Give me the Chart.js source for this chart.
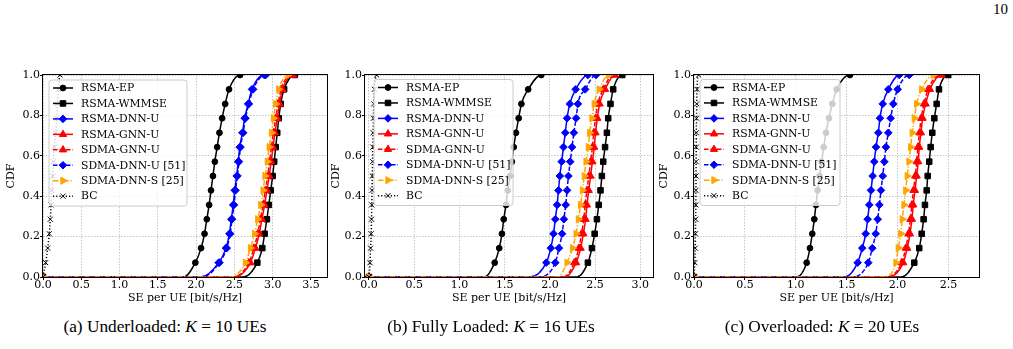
<!DOCTYPE html>
<html>
<head>
<meta charset="utf-8">
<script src="https://cdn.jsdelivr.net/npm/chart.js@4/dist/chart.umd.min.js"></script>
<style>
  body { margin: 0; background: #fff; width: 1013px; height: 349px; position: relative; overflow: hidden; }
  canvas { position: absolute; top: 60px; }
  .caption { position: absolute; top: 317px; font-family: 'Liberation Serif', 'Times New Roman', serif; font-size: 17.3px; transform: translateX(-50%); white-space: nowrap; color: #000; }
  .pagenum { position: absolute; top: 1px; left: 993px; font-family: 'Liberation Serif', 'Times New Roman', serif; font-size: 15px; color: #000; }
</style>
</head>
<body>
<div class="pagenum">10</div>
<canvas id="chartA" width="340" height="250" style="left:0px"></canvas>
<canvas id="chartB" width="335" height="250" style="left:330px"></canvas>
<canvas id="chartC" width="340" height="250" style="left:658px"></canvas>
<div class="caption" style="left:165px">(a) Underloaded: <i>K</i> = 10 UEs</div>
<div class="caption" style="left:491px">(b) Fully Loaded: <i>K</i> = 16 UEs</div>
<div class="caption" style="left:822px">(c) Overloaded: <i>K</i> = 20 UEs</div>
<script>
// CDF levels where the markers sit (one marker every 1/14)
const cdfLevels = [0.071, 0.143, 0.214, 0.286, 0.357, 0.429, 0.5, 0.571, 0.643, 0.714, 0.786, 0.857, 0.929, 1.0];
const seriesNames = ['RSMA-EP', 'RSMA-WMMSE', 'RSMA-DNN-U', 'RSMA-GNN-U', 'SDMA-GNN-U', 'SDMA-DNN-U [51]', 'SDMA-DNN-S [25]', 'BC'];
const yTicks = [0, 0.2, 0.4, 0.6, 0.8, 1.0];
const xTicksA = [0, 0.5, 1.0, 1.5, 2.0, 2.5, 3.0, 3.5];
const xTicksB = [0, 0.5, 1.0, 1.5, 2.0, 2.5, 3.0];
const xTicksC = [0, 0.5, 1.0, 1.5, 2.0, 2.5];

// (a) Underloaded, K = 10 -- SE value at each marker level
const rsmaEpA = [1.99, 2.065, 2.11, 2.14, 2.17, 2.195, 2.22, 2.245, 2.275, 2.305, 2.34, 2.38, 2.43, 2.575];
const rsmaWmmseA = [2.80, 2.865, 2.895, 2.925, 2.95, 2.975, 3.00, 3.02, 3.04, 3.06, 3.08, 3.105, 3.15, 3.29];
const rsmaDnnA = [2.295, 2.39, 2.435, 2.46, 2.485, 2.505, 2.53, 2.55, 2.57, 2.605, 2.635, 2.68, 2.73, 2.89];
const rsmaGnnA = [2.71, 2.775, 2.825, 2.86, 2.895, 2.925, 2.955, 2.98, 3.005, 3.03, 3.06, 3.09, 3.13, 3.27];
const sdmaGnnA = [2.69, 2.755, 2.805, 2.84, 2.875, 2.905, 2.935, 2.96, 2.985, 3.01, 3.04, 3.07, 3.11, 3.25];
const sdmaDnnUA = [2.305, 2.40, 2.445, 2.47, 2.495, 2.515, 2.54, 2.56, 2.58, 2.615, 2.645, 2.69, 2.745, 2.91];
const sdmaDnnSA = [2.645, 2.71, 2.765, 2.805, 2.845, 2.875, 2.90, 2.93, 2.955, 2.985, 3.01, 3.04, 3.08, 3.20];
const bcA = [0.035, 0.061, 0.082, 0.095, 0.105, 0.114, 0.127, 0.135, 0.148, 0.166, 0.179, 0.187, 0.20, 0.222];
const riseStartA = [1.84, 2.62, 2.06, 2.50, 2.48, 2.08, 2.45, 0];

// (b) Fully loaded, K = 16
const rsmaEpB = [1.39, 1.44, 1.47, 1.49, 1.515, 1.535, 1.56, 1.58, 1.60, 1.625, 1.655, 1.685, 1.76, 1.905];
const rsmaWmmseB = [2.42, 2.465, 2.495, 2.52, 2.54, 2.56, 2.575, 2.59, 2.61, 2.63, 2.645, 2.67, 2.70, 2.80];
const rsmaDnnB = [1.96, 2.01, 2.04, 2.06, 2.08, 2.095, 2.11, 2.13, 2.15, 2.17, 2.19, 2.22, 2.285, 2.42];
const rsmaGnnB = [2.29, 2.34, 2.37, 2.395, 2.41, 2.43, 2.45, 2.47, 2.49, 2.505, 2.525, 2.55, 2.61, 2.72];
const sdmaGnnB = [2.27, 2.32, 2.35, 2.375, 2.39, 2.41, 2.43, 2.45, 2.47, 2.485, 2.505, 2.53, 2.59, 2.70];
const sdmaDnnUB = [2.06, 2.10, 2.135, 2.155, 2.175, 2.19, 2.205, 2.225, 2.245, 2.265, 2.29, 2.31, 2.39, 2.51];
const sdmaDnnSB = [2.19, 2.25, 2.29, 2.315, 2.34, 2.36, 2.38, 2.40, 2.425, 2.44, 2.465, 2.49, 2.545, 2.65];
const bcB = [0.011, 0.018, 0.024, 0.028, 0.031, 0.034, 0.037, 0.040, 0.043, 0.046, 0.049, 0.053, 0.060, 0.085];
const riseStartB = [1.28, 2.30, 1.78, 2.17, 2.15, 1.86, 2.09, 0];

// (c) Overloaded, K = 20
const rsmaEpC = [1.107, 1.139, 1.162, 1.182, 1.198, 1.215, 1.234, 1.254, 1.274, 1.297, 1.326, 1.359, 1.402, 1.532];
const rsmaWmmseC = [2.164, 2.213, 2.237, 2.256, 2.269, 2.286, 2.296, 2.311, 2.325, 2.341, 2.361, 2.384, 2.407, 2.498];
const rsmaDnnC = [1.608, 1.653, 1.687, 1.706, 1.722, 1.739, 1.755, 1.771, 1.788, 1.811, 1.827, 1.854, 1.909, 2.017];
const rsmaGnnC = [2.056, 2.095, 2.122, 2.141, 2.154, 2.171, 2.188, 2.203, 2.213, 2.230, 2.246, 2.276, 2.318, 2.433];
const sdmaGnnC = [2.04, 2.08, 2.107, 2.126, 2.14, 2.156, 2.173, 2.188, 2.20, 2.215, 2.232, 2.26, 2.30, 2.42];
const sdmaDnnUC = [1.712, 1.752, 1.785, 1.805, 1.821, 1.837, 1.854, 1.870, 1.886, 1.909, 1.932, 1.958, 2.001, 2.115];
const sdmaDnnSC = [1.984, 2.007, 2.031, 2.046, 2.063, 2.080, 2.095, 2.112, 2.129, 2.144, 2.164, 2.188, 2.237, 2.351];
const bcC = [0.008, 0.012, 0.014, 0.016, 0.018, 0.019, 0.020, 0.021, 0.022, 0.023, 0.025, 0.027, 0.030, 0.045];
const riseStartC = [1.01, 2.04, 1.48, 1.91, 1.89, 1.56, 1.86, 0];

// line / marker look for each series (matplotlib-ish)
const seriesStyles = [
  { color: '#000000', dash: [], marker: 'circle', size: 2.9, rot: 0 },
  { color: '#000000', dash: [], marker: 'rect', size: 3.9, rot: 0 },
  { color: '#0000ff', dash: [], marker: 'rectRot', size: 3.8, rot: 0 },
  { color: '#ff0000', dash: [], marker: 'triangle', size: 4.2, rot: 0 },
  { color: '#ff0000', dash: [4.5, 2], marker: 'triangle', size: 4.2, rot: 0 },
  { color: '#0000ff', dash: [4.5, 2], marker: 'rectRot', size: 3.8, rot: 0 },
  { color: '#ffa500', dash: [5.5, 1.8, 1.2, 1.8], marker: 'triangle', size: 4.2, rot: 90 },
  { color: '#000000', dash: [1.2, 2], marker: 'crossRot', size: 3.6, rot: 0 }
];

const tickFont = { family: 'DejaVu Serif', size: 11 };
const titleFont = { family: 'DejaVu Serif', size: 11 };

// Build one dataset: flat foot from 0, rise, marker points, short flat top
function buildDataset(xs, start, i) {
  const st = seriesStyles[i];
  const pts = [{ x: 0, y: 0 }];
  const radii = [st.size];
  if (start > 0) {
    pts.push({ x: start, y: 0 });
    radii.push(0);
  }
  xs.forEach((x, k) => {
    pts.push({ x: x, y: cdfLevels[k] });
    radii.push(st.size);
  });
  pts.push({ x: xs[xs.length - 1] + 0.01, y: 1 });
  radii.push(0);

  return {
    label: seriesNames[i],
    data: pts,
    borderColor: st.color,
    backgroundColor: st.color,
    borderWidth: 1.5,
    borderDash: st.dash,
    cubicInterpolationMode: 'monotone',
    pointStyle: st.marker,
    pointRotation: st.rot,
    pointRadius: radii,
    pointBackgroundColor: st.color,
    pointBorderColor: st.color,
    pointBorderWidth: 1,
    order: seriesNames.length - i
  };
}

// Own marker drawing for the legend
function drawMarker(ctx, st, x, y) {
  const r = st.size;
  ctx.save();
  ctx.setLineDash([]);
  ctx.fillStyle = st.color;
  ctx.strokeStyle = st.color;
  ctx.lineWidth = 1;
  ctx.translate(x, y);
  ctx.rotate(st.rot * Math.PI / 180);
  ctx.beginPath();
  if (st.marker === 'circle') {
    ctx.arc(0, 0, r, 0, Math.PI * 2);
  } else if (st.marker === 'rect') {
    const h = r * Math.SQRT1_2;
    ctx.rect(-h, -h, 2 * h, 2 * h);
  } else if (st.marker === 'rectRot') {
    ctx.moveTo(0, -r); ctx.lineTo(r, 0); ctx.lineTo(0, r); ctx.lineTo(-r, 0); ctx.closePath();
  } else if (st.marker === 'triangle') {
    for (let k = 0; k < 3; k++) {
      const a = k * 2 * Math.PI / 3;
      const px = Math.sin(a) * r, py = -Math.cos(a) * r;
      if (k === 0) ctx.moveTo(px, py); else ctx.lineTo(px, py);
    }
    ctx.closePath();
  } else if (st.marker === 'crossRot') {
    const h = r * Math.SQRT1_2;
    ctx.moveTo(-h, -h); ctx.lineTo(h, h);
    ctx.moveTo(h, -h); ctx.lineTo(-h, h);
    ctx.stroke();
    ctx.restore();
    return;
  }
  ctx.fill();
  ctx.stroke();
  ctx.restore();
}

// Frame (spines) and a semi transparent legend drawn on top of the lines
function frameLegendPlugin(box) {
  return {
    id: 'frameLegend',
    afterDatasetsDraw(chart) {
      const ctx = chart.ctx;
      const a = chart.chartArea;
      ctx.save();
      ctx.setLineDash([]);
      ctx.strokeStyle = '#000';
      ctx.lineWidth = 1;
      ctx.strokeRect(a.left - 0.5, a.top - 0.5, a.right - a.left + 1, a.bottom - a.top + 1);

      // legend box
      const r = 3;
      ctx.beginPath();
      ctx.moveTo(box.x + r, box.y);
      ctx.arcTo(box.x + box.w, box.y, box.x + box.w, box.y + box.h, r);
      ctx.arcTo(box.x + box.w, box.y + box.h, box.x, box.y + box.h, r);
      ctx.arcTo(box.x, box.y + box.h, box.x, box.y, r);
      ctx.arcTo(box.x, box.y, box.x + box.w, box.y, r);
      ctx.closePath();
      ctx.fillStyle = 'rgba(255,255,255,0.8)';
      ctx.fill();
      ctx.strokeStyle = '#cccccc';
      ctx.lineWidth = 1;
      ctx.stroke();

      ctx.font = '10.8px "DejaVu Serif"';
      ctx.textBaseline = 'middle';
      seriesNames.forEach((name, i) => {
        const st = seriesStyles[i];
        const y = box.y + 8 + i * 15.45;
        ctx.strokeStyle = st.color;
        ctx.lineWidth = 1.5;
        ctx.setLineDash(st.dash);
        ctx.beginPath();
        ctx.moveTo(box.x + 4, y);
        ctx.lineTo(box.x + 24, y);
        ctx.stroke();
        drawMarker(ctx, st, box.x + 14, y);
        ctx.fillStyle = '#000';
        ctx.fillText(name, box.x + 32, y + 0.5);
      });
      ctx.restore();
    }
  };
}

function makeChart(id, series, starts, xMin, xMax, xTicks, lay) {
  const datasets = series.map((xs, i) => buildDataset(xs, starts[i], i));
  return new Chart(document.getElementById(id), {
    type: 'line',
    data: { datasets: datasets },
    options: {
      responsive: false,
      animation: false,
      devicePixelRatio: 1,
      layout: { padding: { top: 15, right: lay.padRight, left: 0, bottom: 0 } },
      plugins: { legend: { display: false }, tooltip: { enabled: false } },
      scales: {
        x: {
          type: 'linear',
          min: xMin,
          max: xMax,
          afterBuildTicks: s => { s.ticks = xTicks.map(v => ({ value: v })); },
          afterFit: s => { s.height = 33; },
          grid: { color: '#b8b8b8', lineWidth: 0.8, tickColor: '#000', tickLength: 3, tickWidth: 1, tickBorderDash: [] },
          border: { display: false, dash: [1.5, 1.5] },
          ticks: { color: '#000', font: tickFont, padding: -1, maxRotation: 0, callback: v => v.toFixed(1) },
          title: { display: true, text: 'SE per UE [bit/s/Hz]', color: '#000', font: titleFont, padding: { top: 0, bottom: 5 } }
        },
        y: {
          type: 'linear',
          min: 0,
          max: 1,
          afterBuildTicks: s => { s.ticks = yTicks.map(v => ({ value: v })); },
          afterFit: s => { s.width = lay.yWidth; },
          grid: { color: '#b8b8b8', lineWidth: 0.8, tickColor: '#000', tickLength: 3, tickWidth: 1, tickBorderDash: [] },
          border: { display: false, dash: [1.5, 1.5] },
          ticks: { color: '#000', font: tickFont, padding: 0, callback: v => v.toFixed(1) },
          title: { display: true, text: 'CDF', color: '#000', font: titleFont, padding: { top: lay.titlePad, bottom: 0 } }
        }
      }
    },
    plugins: [frameLegendPlugin(lay.legend)]
  });
}

makeChart('chartA',
  [rsmaEpA, rsmaWmmseA, rsmaDnnA, rsmaGnnA, sdmaGnnA, sdmaDnnUA, sdmaDnnSA, bcA],
  riseStartA, 0, 3.71, xTicksA,
  { yWidth: 43, padRight: 13, titlePad: 5, legend: { x: 49, y: 20, w: 138, h: 126 } });

makeChart('chartB',
  [rsmaEpB, rsmaWmmseB, rsmaDnnB, rsmaGnnB, sdmaGnnB, sdmaDnnUB, sdmaDnnSB, bcB],
  riseStartB, -0.044, 3.14, xTicksB,
  { yWidth: 35, padRight: 12, titlePad: 0, legend: { x: 44, y: 19.5, w: 139, h: 126 } });

makeChart('chartC',
  [rsmaEpC, rsmaWmmseC, rsmaDnnC, rsmaGnnC, sdmaGnnC, sdmaDnnUC, sdmaDnnSC, bcC],
  riseStartC, 0, 2.80, xTicksC,
  { yWidth: 36, padRight: 19, titlePad: 0, legend: { x: 42, y: 19.5, w: 140, h: 126 } });
</script>
</body>
</html>
